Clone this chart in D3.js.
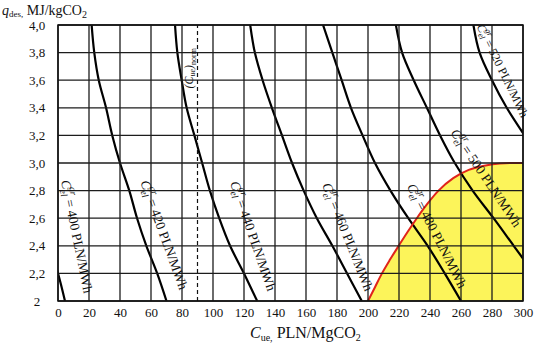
<!DOCTYPE html>
<html>
<head>
<meta charset="utf-8">
<script src="https://cdn.jsdelivr.net/npm/d3@7"></script>
<style>
  html, body { margin: 0; padding: 0; background: #fff; }
  svg { display: block; font-family: "Liberation Serif", "Times New Roman", serif; }
</style>
</head>
<body>
<svg id="chart" width="535" height="346"></svg>
<script>
// q_des levels (MJ/kgCO2) at which each price curve is sampled
const yLevels = [4.0, 3.8, 3.6, 3.4, 3.2, 3.0, 2.8, 2.6, 2.4, 2.2, 2.0];

// Break-even CO2 price C_ue (PLN/MgCO2) for each electricity price C_el^gr
const curve400 = [null, null, null, null, null, null, -17, -11, -5.5, 0, 4.5];
const curve420 = [21.7, 23.4, 26.3, 31, 35, 40, 46, 51, 57, 64, 70];
const curve440 = [75.5, 77, 79.8, 83, 88, 93, 98, 104, 111, 120, 128.5];
const curve460 = [124, 127, 132, 138, 144.5, 151, 158.5, 167, 177, 186.5, 196];
const curve480 = [171, 177, 183, 189, 196.5, 204.5, 214.5, 226, 238.5, 249.5, 260];
const curve500 = [218, 222, 229.5, 238, 246.5, 256, 267.5, 281, 294, 307, null];
const curve520 = [268, 272, 280, 289.5, 301, 313, null, null, null, null, null];
const curvePrices = ["400", "420", "440", "460", "480", "500", "520"];

// Boundary of the favourable region
const boundaryX = [200, 204.5, 209, 214.2, 219.8, 225.5, 231.5, 238, 245.5, 255, 265, 275, 285, 292, 300];
const boundaryY = [2.0, 2.1, 2.2, 2.3, 2.4, 2.5, 2.6, 2.7, 2.8, 2.89, 2.95, 2.98, 2.997, 3.0, 3.0];

// Normative CO2 price (dashed reference)
const normPrice = 90;

// Axis ticks
const xTicks = [0, 20, 40, 60, 80, 100, 120, 140, 160, 180, 200, 220, 240, 260, 280, 300];
const yTicks = [2.0, 2.2, 2.4, 2.6, 2.8, 3.0, 3.2, 3.4, 3.6, 3.8, 4.0];
const yTickLabels = ["2", "2,2", "2,4", "2,6", "2,8", "3,0", "3,2", "3,4", "3,6", "3,8", "4,0"];

const svg = d3.select("#chart");
const m = { left: 58, top: 25, right: 12, bottom: 45 };
const W = 535, H = 346;

const x = d3.scaleLinear().domain([0, 300]).range([m.left, W - m.right]);
const y = d3.scaleLinear().domain([2, 4]).range([H - m.bottom, m.top]);

svg.append("defs").append("clipPath").attr("id", "plotClip")
  .append("rect")
  .attr("x", x(0)).attr("y", y(4))
  .attr("width", x(300) - x(0)).attr("height", y(2) - y(4));

const plot = svg.append("g").attr("clip-path", "url(#plotClip)");

// Favourable region fill
const boundary = boundaryX.map((v, i) => [v, boundaryY[i]]);
plot.append("path")
  .datum(boundary)
  .attr("fill", "#fcf45a")
  .attr("d", d3.area()
    .x(d => x(d[0]))
    .y0(y(2))
    .y1(d => y(d[1]))
    .curve(d3.curveMonotoneX));

// Grid
const grid = svg.append("g").attr("stroke", "#1c1c1c").attr("stroke-width", 1.3);
grid.selectAll("line.v").data(xTicks).join("line")
  .attr("x1", d => x(d)).attr("x2", d => x(d))
  .attr("y1", y(2)).attr("y2", y(4));
grid.selectAll("line.h").data(yTicks).join("line")
  .attr("y1", d => y(d)).attr("y2", d => y(d))
  .attr("x1", x(0)).attr("x2", x(300));

// Dashed normative line
svg.append("line")
  .attr("x1", x(normPrice)).attr("x2", x(normPrice))
  .attr("y1", y(2)).attr("y2", y(4))
  .attr("stroke", "#111").attr("stroke-width", 1.2)
  .attr("stroke-dasharray", "4,3");

// Price curves
const curves = [curve400, curve420, curve440, curve460, curve480, curve500, curve520];
const priceLine = d3.line()
  .x(d => x(d[0]))
  .y(d => y(d[1]))
  .curve(d3.curveCatmullRom.alpha(0.5));
curves.forEach(c => {
  const pts = c.map((v, i) => [v, yLevels[i]]).filter(d => d[0] != null);
  plot.append("path")
    .datum(pts)
    .attr("fill", "none")
    .attr("stroke", "#000")
    .attr("stroke-width", 2.2)
    .attr("d", priceLine);
});

// Boundary line
plot.append("path")
  .datum(boundary)
  .attr("fill", "none")
  .attr("stroke", "#e0241b")
  .attr("stroke-width", 2)
  .attr("d", d3.line().x(d => x(d[0])).y(d => y(d[1])).curve(d3.curveMonotoneX));

// Curve labels: anchor in data units, rotation angle and font size
const labelPlacement = [
  { at: [1.9, 2.87], angle: 78.5, size: 13.5 },
  { at: [53, 2.86], angle: 70, size: 13.5 },
  { at: [111, 2.855], angle: 71, size: 13.5 },
  { at: [170.3, 2.84], angle: 68, size: 13.5 },
  { at: [225, 2.83], angle: 63, size: 13.5 },
  { at: [253, 3.22], angle: 56, size: 13.5 },
  { at: [270, 3.99], angle: 64, size: 12 }
];
labelPlacement.forEach((p, i) => {
  const s = p.size;
  const t = svg.append("text")
    .attr("transform", `translate(${x(p.at[0])},${y(p.at[1])}) rotate(${p.angle})`)
    .attr("font-size", s)
    .attr("fill", "#111");
  t.append("tspan").attr("font-style", "italic").text("C");
  t.append("tspan").attr("font-style", "italic").attr("font-size", s * 0.7).attr("dy", s * 0.22).text("el");
  t.append("tspan").attr("font-style", "italic").attr("font-size", s * 0.7).attr("dx", -s * 0.57).attr("dy", -s * 0.72).text("gr");
  t.append("tspan").attr("dy", s * 0.5).text(" = " + curvePrices[i] + " PLN/MWh");
});

// Normative label
const nl = svg.append("text")
  .attr("transform", `translate(${x(normPrice) - 5},${y(3.54)}) rotate(-90)`)
  .attr("font-size", 12).attr("font-style", "italic").attr("fill", "#111");
nl.append("tspan").text("(C");
nl.append("tspan").attr("font-size", 8).attr("dy", 2).text("ue");
nl.append("tspan").attr("dy", -2).text(")");
nl.append("tspan").attr("font-size", 8).attr("dy", 3).attr("font-style", "normal").text("norm");

// Axes
const xAxis = svg.append("g")
  .attr("transform", `translate(0,${y(2)})`)
  .call(d3.axisBottom(x).tickValues(xTicks).tickSize(0).tickPadding(7));
xAxis.select(".domain").remove();
xAxis.selectAll("text").attr("font-size", 13).attr("font-family", "Liberation Serif").attr("fill", "#111");

const yAxis = svg.append("g")
  .attr("transform", `translate(${x(0)},0)`)
  .call(d3.axisLeft(y).tickValues(yTicks).tickSize(0).tickPadding(21)
    .tickFormat((d, i) => yTickLabels[i]));
yAxis.select(".domain").remove();
yAxis.selectAll("text")
  .attr("font-size", 13).attr("font-family", "Liberation Serif").attr("fill", "#111")
  .attr("text-anchor", "middle");

// Frame
svg.append("rect")
  .attr("x", x(0)).attr("y", y(4))
  .attr("width", x(300) - x(0)).attr("height", y(2) - y(4))
  .attr("fill", "none").attr("stroke", "#111").attr("stroke-width", 1.5);

// Axis titles
const xt = svg.append("text")
  .attr("x", 250).attr("y", 338)
  .attr("font-size", 16).attr("fill", "#111");
xt.append("tspan").attr("font-style", "italic").text("C");
xt.append("tspan").attr("font-size", 10).attr("dy", 3).text("ue,");
xt.append("tspan").attr("dy", -3).text(" PLN/MgCO");
xt.append("tspan").attr("font-size", 10).attr("dy", 3).text("2");

const yt = svg.append("text")
  .attr("x", 2).attr("y", 15)
  .attr("font-size", 14).attr("fill", "#111");
yt.append("tspan").attr("font-style", "italic").text("q");
yt.append("tspan").attr("font-size", 9).attr("dy", 2).text("des,");
yt.append("tspan").attr("dy", -2).text(" MJ/kgCO");
yt.append("tspan").attr("font-size", 10).attr("dy", 3).text("2");
</script>
</body>
</html>
